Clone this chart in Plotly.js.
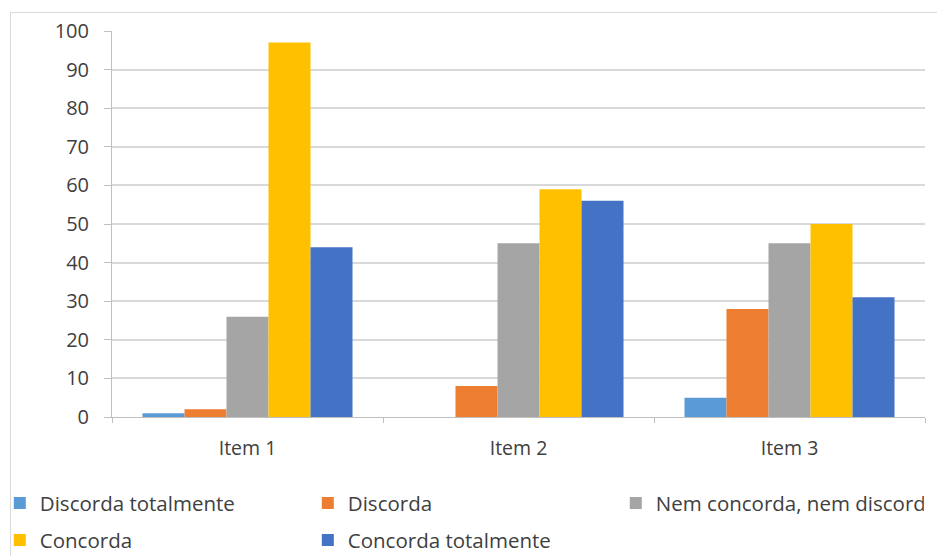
<!DOCTYPE html>
<html>
<head>
<meta charset="utf-8">
<script src="https://cdn.plot.ly/plotly-3.0.1.min.js"></script>
<style>
  html, body { margin: 0; padding: 0; background: #fff; }
  #chart { width: 937px; height: 556px; }
  #frame { position: absolute; left: 10px; top: 12px; width: 940px; height: 560px;
           border: 1px solid #d9d9d9; pointer-events: none; }
</style>
</head>
<body>
<div id="chart"></div>
<div id="frame"></div>
<script>
const categories = ["Item 1", "Item 2", "Item 3"];
const seriesNames = ["Discorda totalmente", "Discorda", "Nem concorda, nem discorda", "Concorda", "Concorda totalmente"];
const discordaTotalmente = [1, 0, 5];
const discorda = [2, 8, 28];
const nemConcorda = [26, 45, 45];
const concorda = [97, 59, 50];
const concordaTotalmente = [44, 56, 31];
const colors = ["#5B9BD5", "#ED7D31", "#A5A5A5", "#FFC000", "#4472C4"];

const values = [discordaTotalmente, discorda, nemConcorda, concorda, concordaTotalmente];
const legendOf = ["legend", "legend", "legend", "legend2", "legend2"];
const traces = values.map((v, i) => ({
  type: "bar",
  name: seriesNames[i],
  x: categories,
  y: v,
  legend: legendOf[i],
  marker: { color: colors[i] },
  hoverinfo: "x+y+name"
}));

const textColor = "#404040";
const fam = "Open Sans, Noto Sans, sans-serif";

const legendBase = {
  orientation: "h",
  x: -0.138, xanchor: "left",
  yanchor: "middle",
  entrywidth: 263, entrywidthmode: "pixels",
  itemwidth: 30,
  tracegroupgap: 0,
  font: { family: fam, size: 20.5, color: textColor },
  bgcolor: "rgba(0,0,0,0)"
};

const layout = {
  width: 937, height: 556,
  margin: { l: 112, r: 12, t: 31, b: 139, autoexpand: false },
  paper_bgcolor: "rgba(0,0,0,0)",
  plot_bgcolor: "#fff",
  barmode: "group",
  bargap: 0.225,
  bargroupgap: 0,
  font: { family: fam, color: textColor, size: 19 },
  showlegend: true,
  xaxis: {
    type: "category",
    showline: true, linecolor: "#bfbfbf", linewidth: 1,
    ticks: "outside", tickson: "boundaries", ticklen: 5, tickcolor: "#bfbfbf",
    tickfont: { family: fam, size: 19.5, color: textColor },
    ticklabelstandoff: 14,
    showgrid: false
  },
  yaxis: {
    range: [0, 100], dtick: 10,
    showline: true, linecolor: "#bfbfbf", linewidth: 1,
    ticks: "outside", ticklen: 7, tickcolor: "#bfbfbf",
    gridcolor: "#d9d9d9", gridwidth: 1.5,
    zeroline: false,
    tickfont: { family: fam, size: 20, color: textColor },
    ticklabelstandoff: 11
  },
  legend: Object.assign({}, legendBase, { y: -0.223 }),
  legend2: Object.assign({}, legendBase, { y: -0.319 })
};

Plotly.newPlot("chart", traces, layout, { displayModeBar: false });
</script>
</body>
</html>
